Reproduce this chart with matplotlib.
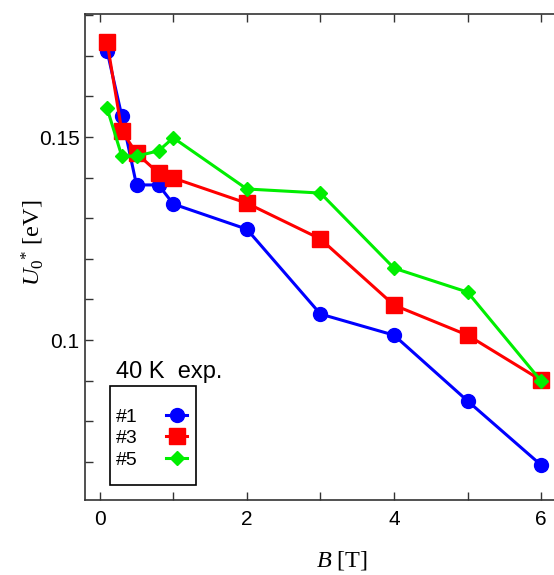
import matplotlib
matplotlib.use("Agg")
import matplotlib.pyplot as plt
from matplotlib.ticker import MultipleLocator, FixedLocator
from matplotlib.patches import Rectangle

plt.rcParams['font.family'] = ['Liberation Sans', 'DejaVu Sans']
plt.rcParams['mathtext.fontset'] = 'custom'
plt.rcParams['mathtext.rm'] = 'Liberation Serif'
plt.rcParams['mathtext.it'] = 'Liberation Serif:italic'

B = [0.1, 0.3, 0.5, 0.8, 1, 2, 3, 4, 5, 6]
s1 = [0.1712, 0.1552, 0.1382, 0.1382, 0.1335, 0.1273, 0.1064, 0.1012, 0.0850, 0.0692]
s3 = [0.1734, 0.1515, 0.1460, 0.1411, 0.1399, 0.1337, 0.1249, 0.1086, 0.1012, 0.0901]
s5 = [0.1571, 0.1453, 0.1453, 0.1466, 0.1498, 0.1372, 0.1362, 0.1177, 0.1118, 0.0899]
labels = ['#1', '#3', '#5']
legend_title = '40 K  exp.'

W, H = 554, 575
fig = plt.figure(figsize=(W / 100, H / 100), dpi=100)
x0, x1 = 85, 600
y0, y1 = 14, 500
ax = fig.add_axes([x0 / W, 1 - y1 / H, (x1 - x0) / W, (y1 - y0) / H])

ax.plot(B, s1, color='#0000ff', lw=2.2, marker='o', ms=10, label=labels[0], zorder=3)
ax.plot(B, s3, color='#ff0000', lw=2.2, marker='s', ms=11, label=labels[1], zorder=4)
ax.plot(B, s5, color='#00ee00', lw=2.2, marker='D', ms=7.5, label=labels[2], zorder=5)

ax.set_xlim(-0.2, 6.8)
ax.set_ylim(0.0606, 0.1803)

ax.xaxis.set_major_locator(FixedLocator([0, 2, 4, 6]))
ax.xaxis.set_minor_locator(FixedLocator([1, 3, 5]))
ax.yaxis.set_major_locator(FixedLocator([0.1, 0.15]))
ax.yaxis.set_minor_locator(MultipleLocator(0.01))
ax.set_yticklabels(['0.1', '0.15'])
ax.tick_params(which='both', direction='in', top=True, right=True, length=6, width=1,
               labelsize=15, color='#333333')
ax.tick_params(axis='x', pad=7)
ax.tick_params(axis='y', pad=4)
for sp in ax.spines.values():
    sp.set_linewidth(1.2)
    sp.set_color('#333333')

ax.set_xlabel(r'$B$ [T]', fontsize=17.5, family='Liberation Serif')
ax.set_ylabel(r'$U_0{}^{*}$ [eV]', fontsize=17.5, family='Liberation Serif')
ax.xaxis.set_label_coords((342 - x0) / (x1 - x0), (y1 - 561) / (y1 - y0))
ax.yaxis.set_label_coords((33 - x0) / (x1 - x0), (y1 - 243) / (y1 - y0))
ax.xaxis.label.set_va('center')
ax.yaxis.label.set_va('center')

leg = ax.legend(loc='upper left', bbox_to_anchor=(116 / W, 1 - 408 / H),
                bbox_transform=fig.transFigure, borderaxespad=0, borderpad=0,
                markerfirst=False, frameon=False, fontsize=14,
                handlelength=1.1, handletextpad=1.45, labelspacing=0.2)
fig.patches.append(Rectangle((110 / W, 1 - 485 / H), 86 / W, 99 / H,
                             transform=fig.transFigure, fill=False,
                             edgecolor='black', linewidth=1.2))
fig.text(116.5 / W, 1 - 378 / H, legend_title, fontsize=17, ha='left', va='baseline')

fig.savefig('out.png', dpi=100)
